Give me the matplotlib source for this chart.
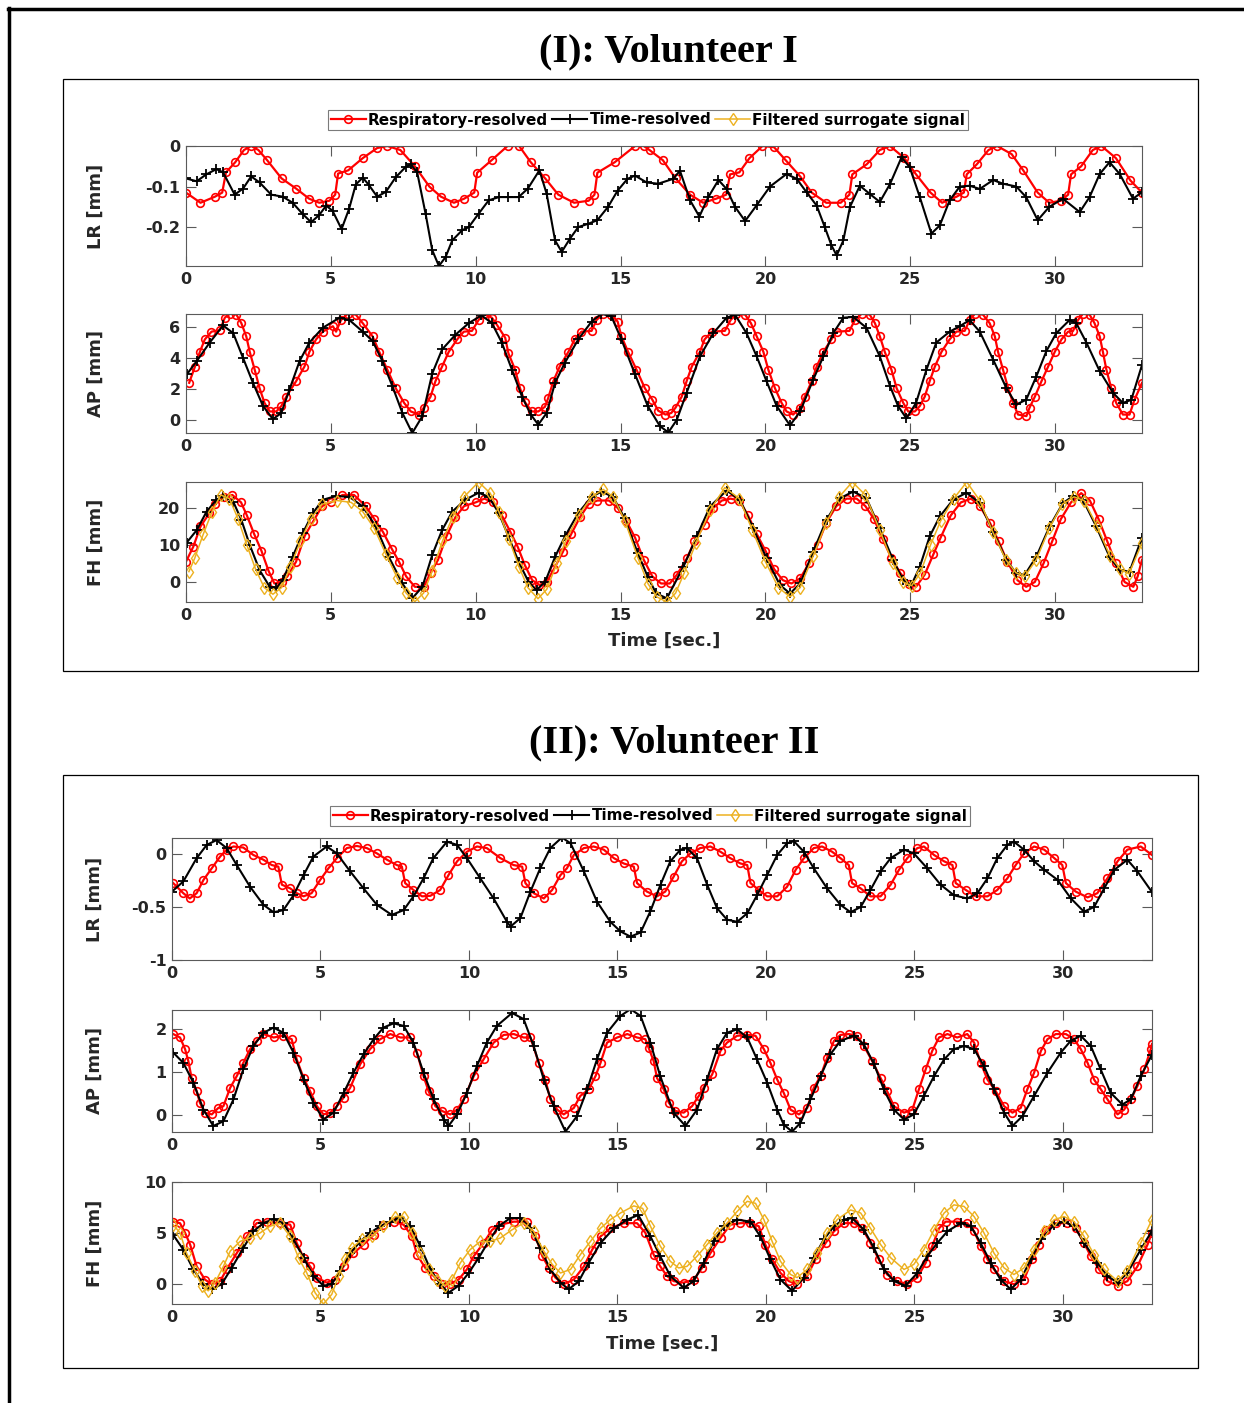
import matplotlib
matplotlib.use('Agg')
import matplotlib.pyplot as plt
from matplotlib.lines import Line2D
from matplotlib.patches import Rectangle

plt.rcParams['font.family'] = 'DejaVu Sans'
plt.rcParams['font.weight'] = 'bold'
plt.rcParams['axes.labelweight'] = 'bold'
plt.rcParams['axes.unicode_minus'] = False

# ---------------- data: (time [s], value [mm]) ----------------
# Volunteer I, LR
lr1_resp = [(0.0, -0.115), (0.5, -0.14), (1.0, -0.125), (1.25, -0.115), (1.38, -0.065),
            (1.7, -0.04), (2.0, -0.01), (2.25, 0.0), (2.5, -0.01), (2.8, -0.035), (3.3, -0.08),
            (3.8, -0.105), (4.25, -0.13), (4.6, -0.14), (4.95, -0.135), (5.15, -0.12),
            (5.25, -0.068), (5.6, -0.06), (6.1, -0.03), (6.6, -0.005), (6.95, 0.0), (7.4, -0.01),
            (7.9, -0.05), (8.4, -0.1), (8.8, -0.125), (9.25, -0.14), (9.6, -0.13), (9.95, -0.115),
            (10.05, -0.066), (10.55, -0.035), (11.1, 0.0), (11.5, 0.0), (11.9, -0.04),
            (12.4, -0.08), (12.85, -0.12), (13.4, -0.14), (13.9, -0.135), (14.1, -0.12),
            (14.2, -0.066), (14.8, -0.04), (15.5, 0.0), (15.8, 0.0), (16.0, -0.01),
            (16.46, -0.035), (16.9, -0.08), (17.4, -0.12), (17.85, -0.14), (18.3, -0.13),
            (18.65, -0.12), (18.78, -0.07), (19.1, -0.065), (19.45, -0.03), (19.9, 0.0),
            (20.3, -0.003), (20.7, -0.035), (21.2, -0.075), (21.6, -0.115), (22.1, -0.14),
            (22.6, -0.14), (22.9, -0.12), (23.0, -0.07), (23.5, -0.045), (23.95, -0.01),
            (24.3, 0.0), (24.8, -0.03), (25.2, -0.07), (25.7, -0.115), (26.1, -0.14),
            (26.6, -0.125), (26.85, -0.115), (26.95, -0.07), (27.3, -0.045), (27.7, -0.01),
            (28.0, 0.0), (28.5, -0.02), (28.9, -0.06), (29.4, -0.115), (29.8, -0.14),
            (30.2, -0.135), (30.45, -0.12), (30.55, -0.07), (30.9, -0.05), (31.3, -0.01),
            (31.6, 0.0), (32.1, -0.03), (32.6, -0.085), (33.0, -0.115)]
lr1_time = [(0.0, -0.08), (0.37, -0.087), (0.7, -0.07), (1.05, -0.057), (1.28, -0.065),
            (1.68, -0.12), (1.97, -0.105), (2.25, -0.075), (2.54, -0.09), (2.94, -0.12),
            (3.34, -0.125), (3.68, -0.14), (4.03, -0.168), (4.32, -0.188), (4.6, -0.17),
            (4.84, -0.147), (5.06, -0.16), (5.37, -0.205), (5.63, -0.155), (5.86, -0.095),
            (6.1, -0.078), (6.3, -0.095), (6.6, -0.125), (6.9, -0.113), (7.24, -0.077),
            (7.58, -0.052), (7.76, -0.045), (7.98, -0.065), (8.27, -0.167), (8.5, -0.257),
            (8.73, -0.296), (8.96, -0.274), (9.19, -0.233), (9.53, -0.208), (9.76, -0.2),
            (10.1, -0.167), (10.45, -0.134), (10.8, -0.126), (11.13, -0.126), (11.48, -0.126),
            (11.8, -0.105), (12.2, -0.06), (12.45, -0.118), (12.74, -0.233), (12.97, -0.261),
            (13.25, -0.229), (13.54, -0.2), (13.88, -0.192), (14.2, -0.183), (14.57, -0.15),
            (14.9, -0.11), (15.24, -0.081), (15.5, -0.073), (15.9, -0.09), (16.3, -0.093),
            (16.82, -0.081), (17.05, -0.061), (17.4, -0.134), (17.72, -0.174), (18.03, -0.126),
            (18.38, -0.084), (18.66, -0.106), (18.95, -0.15), (19.3, -0.185), (19.7, -0.146),
            (20.16, -0.1), (20.73, -0.069), (21.08, -0.081), (21.42, -0.114), (21.77, -0.147),
            (22.05, -0.2), (22.28, -0.245), (22.46, -0.27), (22.69, -0.233), (22.92, -0.15),
            (23.26, -0.098), (23.6, -0.118), (23.95, -0.138), (24.3, -0.094), (24.7, -0.028),
            (24.98, -0.052), (25.33, -0.126), (25.73, -0.216), (26.02, -0.196), (26.36, -0.134),
            (26.71, -0.1), (27.05, -0.098), (27.4, -0.106), (27.86, -0.084), (28.2, -0.093),
            (28.66, -0.1), (29.0, -0.126), (29.4, -0.183), (29.8, -0.15), (30.27, -0.13),
            (30.85, -0.163), (31.19, -0.126), (31.54, -0.069), (31.88, -0.04), (32.23, -0.069),
            (32.69, -0.13), (33.0, -0.114)]

# Volunteer I, AP
ap1_resp = [(0.11, 2.4), (0.31, 3.45), (0.48, 4.4), (0.65, 5.2), (0.88, 5.7), (1.17, 5.8),
            (1.34, 6.6), (1.51, 6.85), (1.74, 6.8), (1.91, 6.25), (2.08, 5.4), (2.2, 4.4),
            (2.37, 3.25), (2.54, 2.05), (2.71, 1.1), (2.89, 0.55), (3.12, 0.55), (3.29, 0.9),
            (3.46, 1.5), (3.8, 2.5), (4.09, 3.45), (4.26, 4.4), (4.49, 5.2), (4.72, 5.7),
            (5.07, 6.05), (5.18, 5.7), (5.35, 6.45), (5.58, 6.85), (5.86, 6.8), (6.1, 6.25),
            (6.44, 5.4), (6.67, 4.4), (6.95, 3.25), (7.24, 2.05), (7.53, 1.1), (7.76, 0.55),
            (8.04, 0.35), (8.21, 0.8), (8.44, 1.5), (8.61, 2.5), (8.84, 3.45), (9.07, 4.4),
            (9.36, 5.2), (9.59, 5.7), (9.87, 5.75), (10.1, 6.45), (10.27, 6.85), (10.56, 6.6),
            (10.73, 6.15), (11.02, 5.3), (11.13, 4.3), (11.36, 3.25), (11.53, 2.05), (11.7, 1.15),
            (11.94, 0.55), (12.16, 0.55), (12.39, 0.85), (12.5, 1.4), (12.68, 2.5), (12.9, 3.45),
            (13.2, 4.4), (13.42, 5.2), (13.65, 5.7), (14.0, 5.75), (14.17, 6.45), (14.4, 6.85),
            (14.68, 6.8), (14.9, 6.35), (15.03, 5.4), (15.26, 4.4), (15.55, 3.25), (15.84, 2.05),
            (16.1, 1.3), (16.3, 0.6), (16.55, 0.35), (16.75, 0.45), (16.9, 0.8), (17.11, 1.5),
            (17.28, 2.5), (17.46, 3.45), (17.74, 4.4), (17.9, 5.2), (18.15, 5.7), (18.6, 5.75),
            (18.8, 6.45), (19.0, 6.85), (19.3, 6.8), (19.5, 6.25), (19.7, 5.4), (19.93, 4.4),
            (20.1, 3.25), (20.33, 2.05), (20.56, 1.1), (20.73, 0.55), (20.96, 0.35), (21.2, 0.8),
            (21.36, 1.5), (21.6, 2.5), (21.77, 3.45), (22.0, 4.4), (22.28, 5.2), (22.46, 5.7),
            (22.9, 5.75), (23.09, 6.45), (23.32, 6.85), (23.6, 6.8), (23.78, 6.25), (23.95, 5.4),
            (24.12, 4.4), (24.35, 3.25), (24.53, 2.05), (24.76, 1.1), (24.93, 0.55), (25.16, 0.55),
            (25.33, 0.9), (25.5, 1.5), (25.67, 2.5), (25.85, 3.45), (26.08, 4.4), (26.36, 5.2),
            (26.59, 5.7), (26.88, 5.75), (27.05, 6.45), (27.23, 6.85), (27.51, 6.8), (27.74, 6.25),
            (27.92, 5.4), (28.03, 4.4), (28.2, 3.25), (28.38, 2.05), (28.55, 1.1), (28.72, 0.35),
            (29.01, 0.25), (29.12, 0.8), (29.3, 1.5), (29.53, 2.5), (29.76, 3.45), (29.99, 4.4),
            (30.22, 5.2), (30.45, 5.7), (30.62, 5.75), (30.79, 6.45), (30.96, 6.85), (31.19, 6.8),
            (31.36, 6.25), (31.54, 5.4), (31.65, 4.4), (31.77, 3.25), (31.94, 2.05), (32.11, 1.1),
            (32.34, 0.35), (32.57, 0.35), (32.74, 1.3), (33.0, 2.4)]
ap1_time = [(0.05, 3.0), (0.37, 3.8), (0.82, 5.0), (1.28, 6.1), (1.63, 5.6), (1.97, 4.0),
            (2.31, 2.4), (2.66, 0.9), (3.0, 0.05), (3.29, 0.45), (3.57, 1.95), (3.92, 3.8),
            (4.26, 5.0), (4.72, 5.95), (5.3, 6.6), (5.64, 6.45), (6.1, 5.7), (6.44, 5.1),
            (6.78, 3.8), (7.12, 2.2), (7.47, 0.45), (7.81, -0.84), (8.16, 0.25), (8.5, 3.0),
            (8.84, 4.55), (9.3, 5.5), (9.76, 6.25), (10.2, 6.75), (10.56, 6.25), (10.9, 5.0),
            (11.25, 3.25), (11.6, 1.5), (11.9, 0.35), (12.16, -0.3), (12.45, 0.45), (12.74, 2.4),
            (13.08, 3.7), (13.54, 5.2), (14.0, 6.35), (14.34, 6.85), (14.68, 6.7), (15.03, 5.2),
            (15.49, 3.0), (15.94, 0.9), (16.36, -0.4), (16.65, -0.8), (16.94, 0.0), (17.28, 1.75),
            (17.74, 4.1), (18.2, 5.6), (18.66, 6.6), (18.95, 6.8), (19.35, 5.6), (19.7, 4.1),
            (20.04, 2.5), (20.39, 0.9), (20.85, -0.35), (21.2, 0.55), (21.65, 2.6), (22.0, 4.1),
            (22.34, 5.6), (22.69, 6.6), (23.03, 6.65), (23.49, 5.95), (23.95, 4.1), (24.3, 2.2),
            (24.58, 0.9), (24.87, 0.1), (25.2, 1.1), (25.56, 3.25), (25.9, 5.0), (26.36, 5.7),
            (26.71, 6.05), (27.05, 6.45), (27.4, 5.7), (27.86, 3.9), (28.32, 2.05), (28.66, 1.0),
            (29.0, 1.3), (29.35, 2.8), (29.7, 4.45), (30.04, 5.6), (30.5, 6.45), (30.73, 6.25),
            (31.08, 5.0), (31.54, 3.15), (32.0, 1.75), (32.34, 1.1), (32.63, 1.3), (33.0, 3.55)]

# Volunteer I, FH
fh1_resp = [(0.0, 5.5), (0.25, 9.5), (0.5, 15), (0.8, 18.5), (1.0, 21), (1.3, 23), (1.6, 23.5),
            (1.9, 21.5), (2.1, 18), (2.35, 13), (2.6, 8.5), (2.85, 3), (3.05, -0.4), (3.3, 0),
            (3.5, 1.5), (3.8, 5.5), (4.1, 12.5), (4.4, 16.5), (4.7, 20.5), (5.0, 21.5), (5.4, 23.5),
            (5.8, 23.5), (6.2, 20.5), (6.5, 17), (6.8, 13.5), (7.1, 9), (7.35, 5.5), (7.6, 1.5),
            (7.9, -1.3), (8.2, -1.3), (8.45, 2.5), (8.7, 6), (9.0, 12.5), (9.3, 17.5), (9.6, 20.5),
            (10.0, 21.5), (10.3, 22.5), (10.6, 21.5), (10.9, 18), (11.2, 13.5), (11.45, 9.5),
            (11.7, 4.5), (11.95, 0.5), (12.2, -0.8), (12.45, 0), (12.7, 3.5), (13.0, 8), (13.3, 13),
            (13.6, 17.5), (13.9, 21), (14.2, 22), (14.6, 22), (14.9, 20), (15.2, 16.5), (15.5, 12),
            (15.8, 6), (16.1, 1.5), (16.4, -0.4), (16.7, -0.4), (16.95, 2), (17.3, 6.5), (17.55, 11),
            (17.9, 15.5), (18.2, 20), (18.5, 22), (18.8, 22.5), (19.1, 22), (19.4, 18), (19.7, 13),
            (20.0, 8.5), (20.3, 3.5), (20.6, 0.5), (20.9, -0.4), (21.2, 1), (21.5, 5), (21.8, 10),
            (22.1, 16), (22.45, 20.5), (22.8, 22.5), (23.15, 22.5), (23.45, 20.5), (23.75, 17),
            (24.05, 11.5), (24.35, 6.5), (24.65, 2.5), (24.95, -0.5), (25.2, -1.3), (25.5, 2),
            (25.8, 7.5), (26.05, 12), (26.4, 18), (26.75, 21.5), (27.1, 22.5), (27.4, 20.5),
            (27.75, 16), (28.05, 11), (28.35, 5.5), (28.7, 0.5), (29.0, -1.3), (29.3, 0), (29.6, 5),
            (29.9, 11), (30.2, 17), (30.55, 21.5), (30.9, 24), (31.2, 22), (31.5, 17), (31.8, 11),
            (32.1, 5), (32.4, 0), (32.7, -1.3), (32.85, 1.5), (33.0, 6)]
fh1_time = [(0.02, 10.6), (0.37, 14), (0.71, 19), (1.05, 22.2), (1.28, 23.2), (1.63, 21.7),
            (1.91, 16.8), (2.2, 10), (2.54, 3.2), (2.89, -1.3), (3.12, -1.7), (3.34, 0.5),
            (3.68, 6.8), (4.03, 13.2), (4.38, 18.6), (4.72, 22.2), (5.18, 23.2), (5.64, 23),
            (6.1, 20.4), (6.55, 15), (7.0, 6.8), (7.47, -0.4), (7.81, -4.4), (8.16, -1.3),
            (8.5, 7.3), (8.84, 14), (9.19, 19), (9.64, 22.2), (10.1, 24.1), (10.45, 23),
            (10.8, 18.6), (11.13, 12.3), (11.48, 5.5), (11.82, 0.1), (12.1, -2.2), (12.4, 0.1),
            (12.74, 6.8), (13.08, 12.3), (13.54, 18.6), (14.0, 23), (14.34, 24.4), (14.74, 23),
            (15.14, 17.2), (15.6, 7.7), (15.94, 1.4), (16.23, -3.1), (16.6, -4.4), (17.17, 4.1),
            (17.63, 12.3), (18.09, 20.4), (18.66, 24.7), (19.12, 22.2), (19.58, 14.5),
            (20.04, 6.4), (20.5, -0.8), (20.85, -3.1), (21.2, -0.4), (21.65, 8.2), (22.11, 16.8),
            (22.57, 22.6), (23.03, 24.4), (23.49, 22.6), (23.95, 14.5), (24.41, 5.9),
            (24.75, 0.5), (25.04, -0.8), (25.33, 4.1), (25.67, 12.3), (26.02, 17.7),
            (26.48, 22.2), (26.94, 24.1), (27.4, 21.3), (27.86, 13.6), (28.32, 5.9),
            (28.66, 2.3), (28.95, 1.9), (29.35, 6.8), (29.81, 15), (30.27, 21.3), (30.62, 23.2),
            (30.96, 22.2), (31.42, 15), (31.88, 6.8), (32.23, 3.2), (32.57, 2.8), (33.0, 12.0)]
fh1_filt = [(0.1, 2.8), (0.3, 6.4), (0.6, 13), (0.9, 19), (1.2, 23.5), (1.5, 22.5), (1.8, 17),
            (2.1, 10), (2.4, 3.5), (2.7, -1.5), (3.0, -3.3), (3.3, -1.5), (3.6, 4), (3.95, 11),
            (4.3, 17), (4.7, 21), (5.2, 22), (5.7, 21.5), (6.1, 19), (6.5, 14.5), (6.9, 7.5),
            (7.3, 1), (7.6, -3), (7.9, -5.3), (8.2, -3), (8.5, 3), (8.85, 11), (9.2, 17.5),
            (9.6, 23), (10.1, 27), (10.5, 24), (10.8, 19), (11.15, 11.5), (11.5, 4), (11.8, -1.5),
            (12.15, -4.5), (12.45, -2), (12.8, 5), (13.1, 11), (13.55, 18), (14.0, 23), (14.4, 25),
            (14.75, 23), (15.15, 16.5), (15.6, 6.5), (15.95, -0.5), (16.25, -4), (16.6, -5.4),
            (16.9, -3), (17.2, 2.5), (17.6, 10.5), (18.1, 19.5), (18.6, 25.5), (19.1, 22.5),
            (19.55, 14), (20.0, 5.5), (20.45, -1.5), (20.85, -4), (21.2, -1.5), (21.65, 7),
            (22.1, 16), (22.55, 23), (23.0, 27), (23.45, 23.5), (23.95, 14), (24.4, 5), (24.75, 0),
            (25.05, -1), (25.35, 2.5), (25.7, 10), (26.05, 16.5), (26.5, 22.5), (26.95, 27),
            (27.4, 22), (27.85, 13.5), (28.3, 6), (28.65, 2.5), (28.95, 1.5), (29.35, 6),
            (29.8, 14.5), (30.25, 21), (30.65, 23), (31.0, 22), (31.45, 15), (31.9, 7),
            (32.25, 3.5), (32.55, 2.2), (33.0, 10.5)]

# Volunteer II, LR
lr2_resp = [(0.04, -0.275), (0.38, -0.37), (0.6, -0.42), (0.83, -0.37), (1.06, -0.245),
            (1.34, -0.135), (1.62, -0.025), (1.84, 0.04), (2.07, 0.07), (2.4, 0.06), (2.74, -0.01),
            (3.08, -0.055), (3.36, -0.105), (3.58, -0.12), (3.7, -0.29), (3.98, -0.325),
            (4.2, -0.37), (4.43, -0.4), (4.7, -0.37), (4.99, -0.245), (5.27, -0.135), (5.55, -0.04),
            (5.89, 0.055), (6.22, 0.075), (6.56, 0.055), (6.9, 0.005), (7.24, -0.055),
            (7.57, -0.105), (7.74, -0.12), (7.85, -0.275), (8.13, -0.34), (8.42, -0.4),
            (8.7, -0.395), (9.03, -0.34), (9.31, -0.2), (9.6, -0.07), (9.93, 0.02), (10.27, 0.07),
            (10.6, 0.055), (11.06, -0.04), (11.5, -0.105), (11.79, -0.12), (11.9, -0.275),
            (12.18, -0.37), (12.52, -0.42), (12.8, -0.34), (13.08, -0.2), (13.3, -0.135),
            (13.53, -0.01), (13.87, 0.055), (14.2, 0.07), (14.54, 0.04), (14.88, -0.04),
            (15.21, -0.09), (15.55, -0.12), (15.66, -0.275), (15.99, -0.355), (16.33, -0.4),
            (16.61, -0.355), (16.89, -0.215), (17.17, -0.07), (17.46, 0.005), (17.79, 0.055),
            (18.13, 0.07), (18.47, 0.02), (18.8, -0.04), (19.14, -0.09), (19.37, -0.105),
            (19.48, -0.275), (19.76, -0.34), (20.04, -0.4), (20.38, -0.4), (20.71, -0.31),
            (21.0, -0.15), (21.28, -0.04), (21.61, 0.055), (21.89, 0.07), (22.23, 0.02),
            (22.51, -0.04), (22.79, -0.105), (22.9, -0.275), (23.19, -0.325), (23.52, -0.4),
            (23.86, -0.4), (24.2, -0.29), (24.48, -0.15), (24.76, -0.04), (25.1, 0.055),
            (25.32, 0.07), (25.66, -0.01), (26.0, -0.07), (26.28, -0.105), (26.39, -0.275),
            (26.73, -0.34), (27.06, -0.4), (27.46, -0.4), (27.79, -0.34), (28.13, -0.23),
            (28.41, -0.105), (28.69, 0.005), (29.03, 0.07), (29.37, 0.04), (29.71, -0.04),
            (29.98, -0.105), (30.1, -0.275), (30.43, -0.355), (30.83, -0.41), (31.16, -0.37),
            (31.5, -0.23), (31.84, -0.07), (32.17, 0.04), (32.62, 0.07), (33.0, -0.01)]
lr2_time = [(0.0, -0.355), (0.38, -0.26), (0.83, -0.04), (1.17, 0.085), (1.5, 0.13),
            (1.84, 0.055), (2.18, -0.105), (2.63, -0.31), (3.08, -0.48), (3.42, -0.55),
            (3.75, -0.53), (4.09, -0.39), (4.43, -0.2), (4.76, -0.025), (5.21, 0.07),
            (5.55, 0.005), (6.0, -0.165), (6.45, -0.325), (6.9, -0.48), (7.4, -0.575),
            (7.8, -0.53), (8.13, -0.4), (8.47, -0.23), (8.8, -0.04), (9.26, 0.115), (9.6, 0.085),
            (9.93, -0.04), (10.38, -0.23), (10.83, -0.42), (11.28, -0.64), (11.4, -0.685),
            (11.73, -0.605), (12.07, -0.355), (12.4, -0.135), (12.74, 0.055), (13.13, 0.155),
            (13.42, 0.1), (13.87, -0.165), (14.31, -0.45), (14.76, -0.64), (15.1, -0.73),
            (15.44, -0.78), (15.78, -0.74), (16.11, -0.54), (16.45, -0.29), (16.78, -0.07),
            (17.12, 0.04), (17.34, 0.055), (17.68, -0.04), (18.02, -0.29), (18.35, -0.51),
            (18.69, -0.62), (19.03, -0.64), (19.37, -0.56), (19.7, -0.39), (20.04, -0.2),
            (20.38, -0.01), (20.71, 0.1), (20.94, 0.12), (21.28, 0.02), (21.61, -0.135),
            (22.06, -0.325), (22.51, -0.48), (22.85, -0.55), (23.19, -0.5), (23.52, -0.34),
            (23.86, -0.165), (24.2, -0.04), (24.65, 0.04), (24.98, 0.005), (25.43, -0.135),
            (25.88, -0.29), (26.33, -0.39), (26.78, -0.42), (27.12, -0.37), (27.46, -0.23),
            (27.79, -0.04), (28.13, 0.085), (28.35, 0.115), (28.69, 0.04), (29.03, -0.07),
            (29.37, -0.15), (29.82, -0.245), (30.27, -0.42), (30.71, -0.545), (31.05, -0.5),
            (31.39, -0.325), (31.73, -0.15), (32.17, -0.055), (32.51, -0.165), (33.0, -0.36)]

# Volunteer II, AP
ap2_resp = [(0.04, 1.88), (0.27, 1.8), (0.44, 1.53), (0.55, 1.25), (0.66, 0.86), (0.83, 0.55),
            (0.94, 0.28), (1.11, 0.05), (1.34, 0.01), (1.56, 0.16), (1.73, 0.2), (1.96, 0.63),
            (2.18, 0.9), (2.4, 1.21), (2.63, 1.53), (2.85, 1.72), (3.08, 1.88), (3.42, 1.8),
            (3.75, 1.84), (4.03, 1.76), (4.2, 1.29), (4.43, 0.86), (4.65, 0.55), (4.88, 0.2),
            (5.1, 0.01), (5.33, 0.05), (5.55, 0.2), (5.78, 0.4), (6.0, 0.63), (6.34, 1.18),
            (6.67, 1.53), (7.01, 1.76), (7.35, 1.88), (7.69, 1.8), (8.02, 1.8), (8.25, 1.45),
            (8.47, 0.9), (8.64, 0.55), (8.87, 0.2), (9.09, 0.09), (9.37, 0.01), (9.6, 0.12),
            (9.82, 0.36), (10.16, 0.9), (10.49, 1.29), (10.83, 1.68), (11.17, 1.86), (11.51, 1.88),
            (11.84, 1.8), (12.07, 1.8), (12.35, 1.21), (12.57, 0.82), (12.74, 0.36), (12.97, 0.12),
            (13.19, 0.01), (13.53, 0.16), (13.75, 0.44), (14.03, 0.59), (14.26, 0.9), (14.43, 1.21),
            (14.65, 1.68), (14.99, 1.8), (15.33, 1.88), (15.66, 1.8), (15.94, 1.76), (16.05, 1.56),
            (16.22, 1.25), (16.33, 0.86), (16.56, 0.59), (16.73, 0.28), (16.95, 0.09), (17.23, 0.05),
            (17.51, 0.2), (17.74, 0.44), (17.9, 0.63), (18.19, 0.94), (18.47, 1.49), (18.69, 1.68),
            (19.03, 1.84), (19.37, 1.86), (19.65, 1.84), (19.93, 1.53), (20.15, 1.21), (20.38, 0.82),
            (20.6, 0.51), (20.83, 0.12), (21.11, 0.01), (21.39, 0.16), (21.61, 0.63), (21.84, 0.9),
            (22.06, 1.33), (22.29, 1.72), (22.51, 1.86), (22.79, 1.88), (23.07, 1.84), (23.3, 1.6),
            (23.58, 1.25), (23.86, 0.86), (24.08, 0.55), (24.31, 0.2), (24.65, 0.05), (24.93, 0.12),
            (25.15, 0.59), (25.38, 1.06), (25.6, 1.49), (25.83, 1.8), (26.11, 1.88), (26.44, 1.8),
            (26.78, 1.88), (27.01, 1.68), (27.23, 1.21), (27.46, 0.82), (27.74, 0.55), (28.02, 0.2),
            (28.3, 0.05), (28.58, 0.16), (28.8, 0.59), (29.03, 0.98), (29.26, 1.49), (29.48, 1.76),
            (29.76, 1.88), (30.1, 1.88), (30.38, 1.76), (30.6, 1.53), (30.83, 1.21), (31.05, 0.82),
            (31.28, 0.59), (31.5, 0.36), (31.84, 0.01), (32.06, 0.12), (32.29, 0.36), (32.51, 0.67),
            (32.74, 1.06), (32.96, 1.53), (33.0, 1.65)]
ap2_time = [(0.04, 1.45), (0.38, 1.21), (0.72, 0.75), (1.06, 0.12), (1.39, -0.26), (1.73, -0.15),
            (2.07, 0.36), (2.4, 1.06), (2.74, 1.6), (3.08, 1.91), (3.42, 2.03), (3.75, 1.91),
            (4.09, 1.45), (4.43, 0.82), (4.76, 0.28), (5.1, -0.11), (5.44, 0.05), (5.78, 0.51),
            (6.11, 0.98), (6.45, 1.41), (6.79, 1.76), (7.12, 2.03), (7.46, 2.13), (7.8, 2.07),
            (8.13, 1.68), (8.47, 0.98), (8.81, 0.36), (9.15, -0.11), (9.31, -0.26), (9.6, 0.01),
            (9.93, 0.51), (10.27, 1.14), (10.6, 1.68), (10.94, 2.07), (11.45, 2.37), (11.84, 2.23),
            (12.18, 1.6), (12.52, 0.82), (12.85, 0.2), (13.25, -0.39), (13.64, -0.03), (13.98, 0.59),
            (14.31, 1.29), (14.65, 1.91), (15.1, 2.3), (15.44, 2.46), (15.78, 2.3), (16.11, 1.68),
            (16.44, 0.9), (16.89, 0.05), (17.29, -0.26), (17.68, 0.12), (18.02, 0.82), (18.35, 1.53),
            (18.69, 1.91), (19.03, 1.99), (19.37, 1.8), (19.7, 1.29), (20.04, 0.75), (20.38, 0.12),
            (20.6, -0.23), (20.88, -0.39), (21.16, -0.19), (21.5, 0.36), (21.84, 0.9), (22.17, 1.41),
            (22.51, 1.72), (22.96, 1.84), (23.3, 1.64), (23.64, 1.18), (23.97, 0.59), (24.31, 0.12),
            (24.65, -0.11), (24.98, 0.01), (25.32, 0.44), (25.66, 0.9), (26.0, 1.29), (26.33, 1.53),
            (26.67, 1.6), (27.01, 1.53), (27.34, 1.14), (27.68, 0.59), (28.02, 0.05), (28.3, -0.26),
            (28.64, -0.03), (29.03, 0.44), (29.48, 0.98), (29.93, 1.45), (30.26, 1.72), (30.6, 1.84),
            (30.94, 1.6), (31.27, 1.06), (31.61, 0.51), (32.0, 0.24), (32.29, 0.36), (32.62, 0.9),
            (33.0, 1.4)]

# Volunteer II, FH
fh2_resp = [(0.04, 6.1), (0.27, 5.95), (0.44, 5.0), (0.61, 3.85), (0.83, 1.7), (1.11, 0.4),
            (1.34, -0.05), (1.62, 0.25), (1.84, 1.4), (2.18, 3.0), (2.52, 4.65), (2.85, 5.95),
            (3.19, 6.1), (3.64, 5.95), (3.98, 5.8), (4.2, 4.0), (4.43, 2.55), (4.65, 1.7),
            (4.88, 0.6), (5.21, 0.1), (5.49, 0.4), (5.78, 1.7), (6.11, 3.0), (6.45, 3.85),
            (6.79, 4.8), (7.12, 5.8), (7.46, 6.1), (7.8, 5.8), (8.08, 4.65), (8.25, 2.85),
            (8.53, 1.55), (8.81, 0.75), (9.09, -0.05), (9.37, -0.05), (9.65, 0.4), (9.93, 1.4),
            (10.16, 2.7), (10.49, 4.0), (10.78, 5.3), (11.06, 5.8), (11.51, 6.1), (11.96, 6.1),
            (12.24, 4.65), (12.47, 2.7), (12.69, 1.55), (12.91, 0.6), (13.19, -0.05), (13.53, 0.4),
            (13.87, 1.7), (14.15, 3.35), (14.43, 4.65), (14.76, 5.45), (15.21, 5.95), (15.66, 5.95),
            (15.94, 5.0), (16.22, 2.85), (16.44, 1.7), (16.67, 0.75), (16.89, 0.25), (17.23, 0.1),
            (17.57, 0.4), (17.85, 1.55), (18.13, 3.0), (18.47, 4.5), (18.8, 5.8), (19.14, 5.95),
            (19.48, 5.95), (19.76, 5.65), (19.98, 3.85), (20.21, 2.4), (20.49, 1.05), (20.77, 0.25),
            (21.05, -0.05), (21.39, 0.75), (21.67, 2.4), (22.01, 4.0), (22.29, 5.15), (22.62, 5.95),
            (22.96, 5.95), (23.24, 5.45), (23.52, 4.0), (23.8, 2.4), (24.08, 0.9), (24.42, 0.25),
            (24.76, -0.05), (25.1, 0.6), (25.38, 2.05), (25.6, 3.7), (25.83, 5.45), (26.05, 6.1),
            (26.44, 6.1), (26.78, 5.95), (27.01, 5.15), (27.23, 3.7), (27.46, 2.4), (27.68, 1.4),
            (28.02, 0.25), (28.35, -0.05), (28.69, 0.4), (28.97, 2.4), (29.2, 3.85), (29.42, 5.3),
            (29.76, 5.95), (30.15, 5.95), (30.43, 5.45), (30.71, 4.0), (30.94, 2.7), (31.22, 1.4),
            (31.5, 0.25), (31.84, -0.2), (32.17, 0.25), (32.51, 1.7), (32.85, 3.85), (33.0, 5.0)]
fh2_time = [(0.04, 4.8), (0.38, 3.35), (0.72, 1.4), (1.06, -0.05), (1.34, -0.55), (1.67, -0.05),
            (2.01, 1.55), (2.4, 3.5), (2.74, 5.15), (3.08, 5.95), (3.42, 6.35), (3.75, 5.95),
            (4.09, 4.35), (4.43, 2.55), (4.76, 0.75), (5.1, -0.2), (5.38, -0.05), (5.66, 1.25),
            (6.0, 3.0), (6.34, 4.15), (6.67, 5.0), (7.01, 5.65), (7.35, 6.1), (7.69, 6.45),
            (8.02, 5.65), (8.36, 3.7), (8.7, 1.4), (9.03, -0.05), (9.31, -0.9), (9.65, -0.2),
            (9.99, 1.05), (10.33, 2.55), (10.66, 4.15), (11.0, 5.65), (11.39, 6.45), (11.73, 6.45),
            (12.07, 5.45), (12.4, 3.5), (12.74, 1.4), (13.08, 0.1), (13.36, -0.55), (13.7, 0.25),
            (14.03, 2.05), (14.43, 4.0), (14.88, 5.45), (15.33, 6.3), (15.7, 6.75), (16.11, 4.65),
            (16.44, 2.7), (16.78, 0.75), (17.23, -0.4), (17.57, 0.25), (17.9, 2.05), (18.24, 4.15),
            (18.58, 5.65), (19.03, 6.3), (19.48, 6.1), (19.81, 4.65), (20.15, 2.4), (20.49, 0.4),
            (20.88, -0.7), (21.28, 0.6), (21.61, 2.55), (21.95, 4.35), (22.29, 5.65), (22.62, 6.3),
            (22.9, 6.45), (23.3, 5.3), (23.64, 3.5), (23.97, 1.4), (24.31, 0.25), (24.7, -0.2),
            (25.1, 1.05), (25.43, 2.7), (25.77, 4.0), (26.11, 5.15), (26.56, 5.95), (26.9, 5.65),
            (27.23, 4.0), (27.57, 2.05), (27.9, 0.4), (28.24, -0.55), (28.58, 0.4), (28.92, 2.4),
            (29.26, 4.35), (29.71, 5.8), (30.04, 6.1), (30.38, 5.65), (30.72, 4.0), (31.16, 2.05),
            (31.5, 0.75), (31.84, 0.1), (32.17, 1.05), (32.62, 3.35), (33.0, 5.2)]
fh2_filt = [(0.04, 5.8), (0.27, 5.0), (0.49, 3.0), (0.78, 1.25), (1.0, -0.2), (1.22, -0.7),
            (1.45, 0.1), (1.73, 1.7), (1.96, 3.2), (2.29, 4.15), (2.63, 4.5), (2.97, 5.0),
            (3.3, 5.65), (3.64, 5.95), (3.98, 4.65), (4.26, 2.55), (4.54, 1.05), (4.82, -0.9),
            (5.1, -2.0), (5.38, -1.05), (5.61, 0.75), (5.83, 2.4), (6.06, 3.5), (6.39, 4.35),
            (6.73, 4.65), (7.12, 5.65), (7.52, 6.6), (7.8, 6.6), (8.08, 5.0), (8.36, 3.0),
            (8.64, 1.4), (8.92, 0.4), (9.2, -0.2), (9.43, 0.4), (9.71, 2.05), (10.04, 3.35),
            (10.38, 4.15), (10.72, 4.15), (11.06, 4.5), (11.45, 5.3), (11.84, 5.95), (12.18, 5.15),
            (12.52, 3.2), (12.8, 1.9), (13.08, 1.05), (13.42, 1.4), (13.75, 2.85), (14.09, 4.15),
            (14.43, 5.45), (14.76, 6.3), (15.1, 6.95), (15.55, 7.65), (15.85, 7.4), (16.11, 5.65),
            (16.44, 3.7), (16.78, 2.2), (17.06, 1.55), (17.34, 1.7), (17.68, 2.7), (18.02, 3.85),
            (18.35, 5.0), (18.69, 5.95), (19.03, 7.1), (19.37, 8.1), (19.65, 7.9), (19.93, 6.3),
            (20.21, 4.15), (20.49, 2.2), (20.83, 0.9), (21.05, 0.6), (21.39, 1.4), (21.72, 3.0),
            (22.06, 5.0), (22.4, 6.3), (22.85, 7.25), (23.19, 6.95), (23.52, 5.45), (23.86, 3.85),
            (24.2, 2.55), (24.65, 1.4), (24.98, 1.9), (25.32, 3.35), (25.66, 5.3), (26.0, 6.95),
            (26.33, 7.75), (26.67, 7.6), (27.01, 6.6), (27.34, 5.0), (27.68, 3.0), (28.02, 1.55),
            (28.35, 0.9), (28.69, 1.55), (29.03, 3.35), (29.37, 5.15), (29.71, 6.3), (30.04, 6.6),
            (30.38, 6.1), (30.71, 4.65), (31.05, 2.85), (31.39, 1.4), (31.84, 0.25), (32.17, 1.25),
            (32.62, 4.0), (33.0, 6.3)]

labels = ['Respiratory-resolved', 'Time-resolved', 'Filtered surrogate signal']

# ---------------- styling ----------------
W, H = 1244, 1403
RED, BLACK, YELLOW = '#ff0000', '#000000', '#edb120'
SPINE = '#5a5a5a'
TXT = '#262626'

styles = {
    'resp': dict(color=RED, lw=1.6, marker='o', ms=5.5, mfc='none', mew=1.2),
    'time': dict(color=BLACK, lw=1.5, marker='+', ms=6.5, mew=1.3),
    'filt': dict(color=YELLOW, lw=1.1, marker='d', ms=6, mfc='none', mew=1.0),
}

fig = plt.figure(figsize=(W / 100, H / 100), dpi=100)


def add_ax(x0, x1, y0, y1):
    return fig.add_axes([x0 / W, 1 - y1 / H, (x1 - x0) / W, (y1 - y0) / H])


def draw(ax, series, ylim, yticks, yticklabels, ylabel, ylab_x, xlabel=False):
    for key, pts in series:
        t = [p[0] for p in pts]
        v = [p[1] for p in pts]
        ax.plot(t, v, **styles[key])
    ax.set_xlim(0, 33)
    ax.set_ylim(*ylim)
    ax.set_xticks([0, 5, 10, 15, 20, 25, 30])
    ax.set_yticks(yticks)
    ax.set_yticklabels(yticklabels)
    ax.tick_params(direction='in', top=True, right=True, length=7, width=0.8,
                   color=SPINE, labelsize=11.5, labelcolor=TXT, pad=4)
    for s in ax.spines.values():
        s.set_color(SPINE)
        s.set_linewidth(0.8)
    ax.set_ylabel(ylabel, fontsize=13, color=TXT)
    ax.yaxis.set_label_coords(ylab_x, 0.5)
    if xlabel:
        ax.set_xlabel('Time [sec.]', fontsize=13, color=TXT)
        ax.xaxis.set_label_coords(0.5, -0.25)


def panel_legend(cx, cy):
    handles = [Line2D([], [], **styles[k]) for k in ('resp', 'time', 'filt')]
    leg = fig.legend(handles, labels, loc='center', bbox_to_anchor=(cx / W, 1 - cy / H),
                     ncol=3, fontsize=11, frameon=True, fancybox=False, edgecolor=SPINE,
                     handlelength=2.3, handletextpad=0.15, columnspacing=0.25,
                     borderpad=0.15, borderaxespad=0)
    leg.get_frame().set_linewidth(0.8)


# ---- Volunteer I ----
fig.text(668 / W, 1 - 52 / H, '(I): Volunteer I', ha='center', va='center',
         family='Liberation Serif', weight='bold', fontsize=29)
fig.add_artist(Rectangle((63 / W, 1 - 671 / H), (1198 - 63) / W, (671 - 79) / H,
                         transform=fig.transFigure, fill=False, ec='black', lw=0.9))
ax = add_ax(186, 1142, 146, 266)
draw(ax, [('resp', lr1_resp), ('time', lr1_time)], (-0.296, 0), [-0.2, -0.1, 0],
     ['-0.2', '-0.1', '0'], 'LR [mm]', -0.085)
ax = add_ax(186, 1142, 314, 433)
draw(ax, [('resp', ap1_resp), ('time', ap1_time)], (-0.84, 6.84), [0, 2, 4, 6],
     ['0', '2', '4', '6'], 'AP [mm]', -0.085)
ax = add_ax(186, 1142, 482, 602)
draw(ax, [('resp', fh1_resp), ('time', fh1_time), ('filt', fh1_filt)], (-5.4, 27),
     [0, 10, 20], ['0', '10', '20'], 'FH [mm]', -0.085, xlabel=True)
panel_legend(648, 120)

# ---- Volunteer II ----
fig.text(674 / W, 1 - 743 / H, '(II): Volunteer II', ha='center', va='center',
         family='Liberation Serif', weight='bold', fontsize=29)
fig.add_artist(Rectangle((63 / W, 1 - 1368 / H), (1198 - 63) / W, (1368 - 775) / H,
                         transform=fig.transFigure, fill=False, ec='black', lw=0.9))
ax = add_ax(172, 1152, 838, 960)
draw(ax, [('resp', lr2_resp), ('time', lr2_time)], (-1, 0.15), [-1, -0.5, 0],
     ['-1', '-0.5', '0'], 'LR [mm]', -0.07)
ax = add_ax(172, 1152, 1010, 1132)
draw(ax, [('resp', ap2_resp), ('time', ap2_time)], (-0.4, 2.44), [0, 1, 2],
     ['0', '1', '2'], 'AP [mm]', -0.07)
ax = add_ax(172, 1152, 1182, 1304)
draw(ax, [('resp', fh2_resp), ('time', fh2_time), ('filt', fh2_filt)], (-2, 10),
     [0, 5, 10], ['0', '5', '10'], 'FH [mm]', -0.07, xlabel=True)
panel_legend(650, 816)

# page border lines (top and left)
fig.add_artist(Line2D([8 / W, 1], [1 - 9 / H, 1 - 9 / H], transform=fig.transFigure,
                      color='black', lw=2.5))
fig.add_artist(Line2D([9 / W, 9 / W], [0, 1 - 8 / H], transform=fig.transFigure,
                      color='black', lw=2.5))

fig.savefig('out.png', dpi=100)
